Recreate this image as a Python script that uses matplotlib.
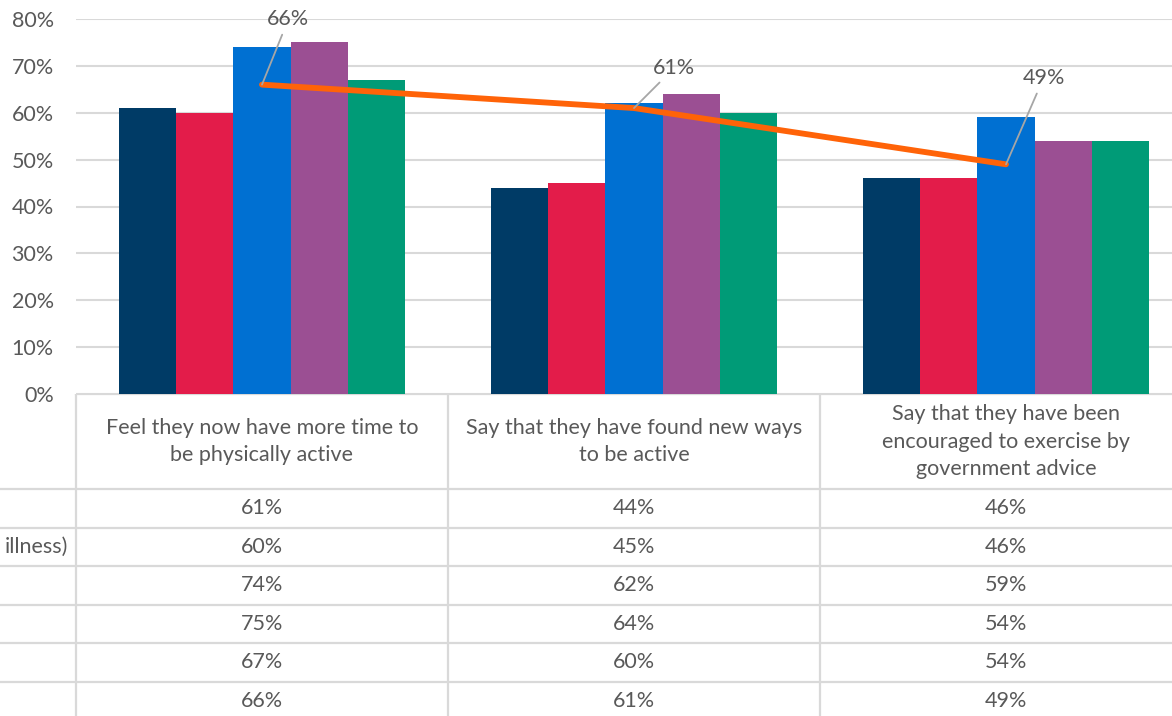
import numpy as np
import matplotlib
matplotlib.use("Agg")
import matplotlib.pyplot as plt

plt.rcParams['font.family'] = ['Lato', 'DejaVu Sans']

# ---- data ----
categories = [
    "Feel they now have more time to\nbe physically active",
    "Say that they have found new ways\nto be active",
    "Say that they have been\nencouraged to exercise by\ngovernment advice",
]
row_labels = ["", "illness)", "", "", "", ""]
group_a = [0.61, 0.44, 0.46]
group_b = [0.60, 0.45, 0.46]
group_c = [0.74, 0.62, 0.59]
group_d = [0.75, 0.64, 0.54]
group_e = [0.67, 0.60, 0.54]
overall = [0.66, 0.61, 0.49]

bar_series = [group_a, group_b, group_c, group_d, group_e]
bar_colors = ["#003B66", "#E31C4A", "#0070D2", "#9B4F93", "#009B77"]
line_color = "#FF6308"
grid_color = "#D9D9D9"
text_color = "#595959"
fs = 15.5

W, H = 1172, 716
fig = plt.figure(figsize=(W / 100, H / 100), dpi=100)

# chart area spans three category columns, the last one runs past the edge
cat_w = 372
left_px, top_px, bottom_px = 76, 19, 394
ax = fig.add_axes([left_px / W, 1 - bottom_px / H, 3 * cat_w / W, (bottom_px - top_px) / H])

x = np.arange(len(categories))
bw = 0.154
for i, (vals, col) in enumerate(zip(bar_series, bar_colors)):
    ax.bar(x + (i - 2) * bw, vals, width=bw, color=col, zorder=2)

ax.plot(x, overall, color=line_color, lw=4.2, zorder=3, solid_capstyle='round')

offsets = [(19, 47), (29, 29), (27, 62)]
for xi, v, off in zip(x, overall, offsets):
    ax.annotate(f"{v:.0%}", (xi, v), xytext=off, textcoords='offset points',
                ha='center', va='center', fontsize=fs, color=text_color,
                arrowprops=dict(arrowstyle='-', color='#A6A6A6', lw=1.3,
                                shrinkA=2, shrinkB=0))

ax.set_xlim(-0.5, 2.5)
ax.set_ylim(0, 0.8)
ax.set_yticks(np.arange(0, 0.81, 0.1))
ax.set_yticklabels([f"{t:.0%}" for t in np.arange(0, 0.81, 0.1)])
ax.tick_params(axis='y', length=0, pad=16, labelsize=fs, labelcolor=text_color)
ax.set_xticks([])
ax.grid(axis='y', color=grid_color, lw=1.5, zorder=0)
for s in ax.spines.values():
    s.set_visible(False)

# ---- data table underneath ----
label_w = left_px / cat_w
header_h = 95 / 38.5
n_rows = len(bar_series) + 1
tab = fig.add_axes([0, 1 - (bottom_px + 95 + 38.5 * n_rows) / H,
                    (left_px + 3 * cat_w) / W, (95 + 38.5 * n_rows) / H])
tab.set_xlim(-0.5 - label_w, 2.5)
tab.set_ylim(header_h + n_rows, 0)
tab.axis('off')

lc = dict(color=grid_color, lw=1.6)
tab.plot([-0.5, 2.5], [0, 0], **lc)
for r in range(n_rows + 1):
    yy = header_h + r
    tab.plot([-0.5 - label_w, 2.5], [yy, yy], **lc)
for b in [-0.5, 0.5, 1.5, 2.5]:
    tab.plot([b, b], [0, header_h + n_rows], **lc)

for xi, cat in zip(x, categories):
    tab.text(xi, header_h / 2, cat, ha='center', va='center', fontsize=fs,
             color=text_color, linespacing=1.45)

table_rows = bar_series + [overall]
for r, (vals, lab) in enumerate(zip(table_rows, row_labels + [""])):
    yy = header_h + r + 0.5
    for xi, v in zip(x, vals):
        tab.text(xi, yy, f"{v:.0%}", ha='center', va='center', fontsize=fs,
                 color=text_color)
    if lab:
        tab.text(-0.5 - 8 / cat_w, yy, lab, ha='right', va='center',
                 fontsize=fs, color=text_color)

fig.savefig("out.png", dpi=100)
